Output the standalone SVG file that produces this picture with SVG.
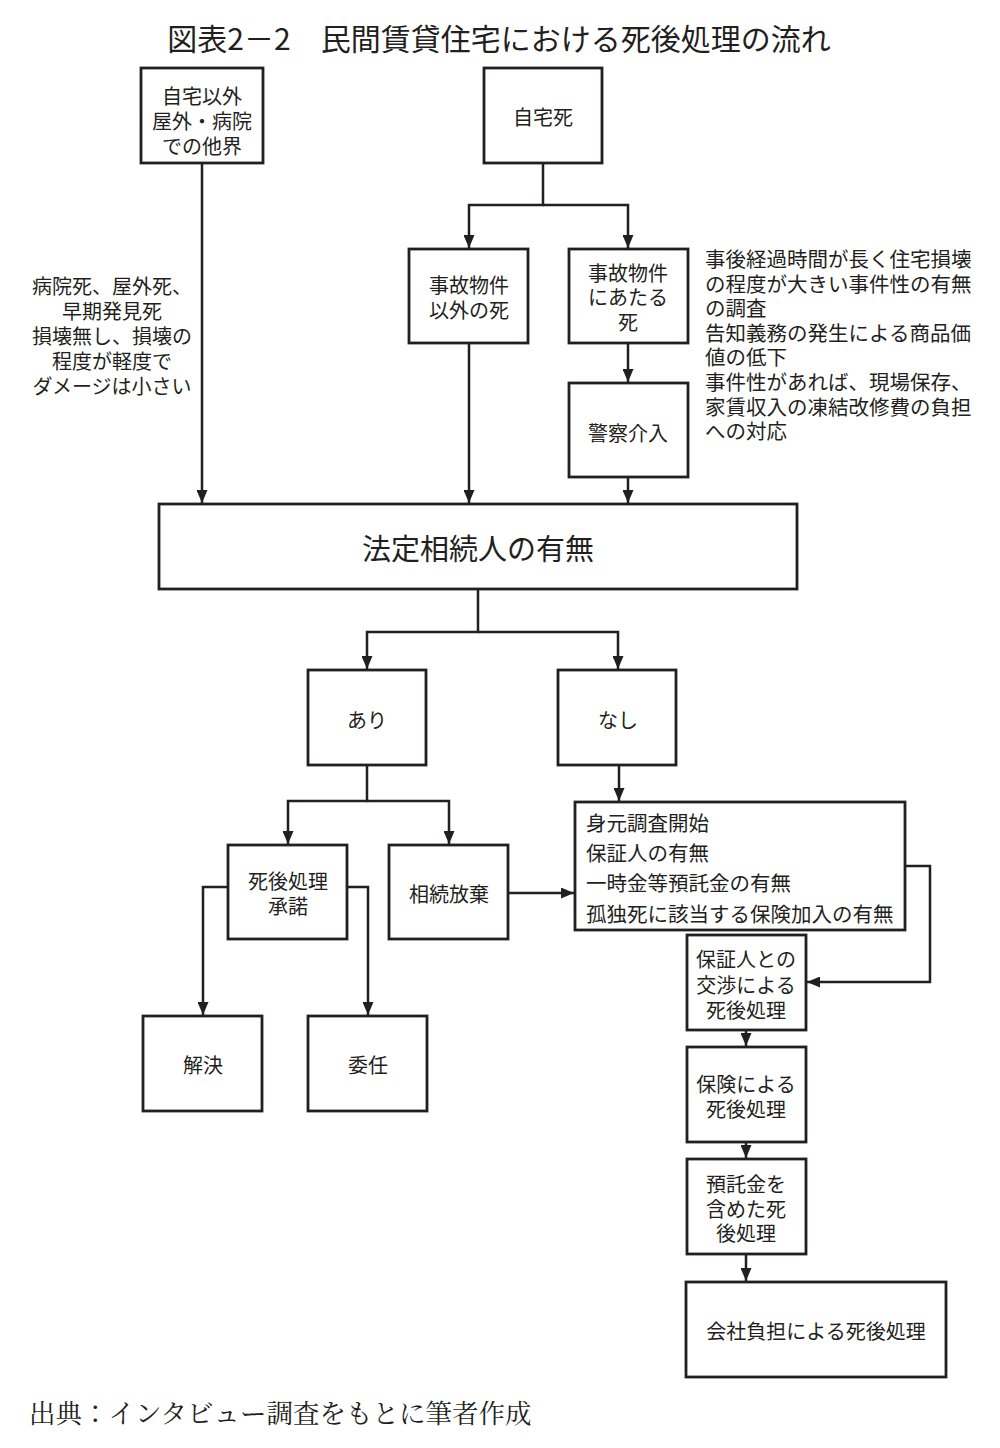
<svg xmlns="http://www.w3.org/2000/svg" width="1000" height="1448" viewBox="0 0 1000 1448">
<style>
.bg{fill:#ffffff}
.box{fill:#ffffff;stroke:#231f20;stroke-width:2.8}
.ln{fill:none;stroke:#231f20;stroke-width:2.5}
.t{font-family:"Noto Sans CJK JP","Noto Sans CJK SC",sans-serif;font-size:20px;fill:#231f20;text-anchor:middle;dominant-baseline:central}
.tl{text-anchor:start}
.note{font-size:20.5px}
.big{font-size:29px}
.title{font-size:30px}
.src{font-family:"Noto Serif CJK JP","Noto Sans CJK JP",serif;font-size:26.5px;fill:#231f20;dominant-baseline:central}
</style>
<defs>
<marker id="ah" markerUnits="userSpaceOnUse" markerWidth="13" markerHeight="11" viewBox="0 0 13 11" refX="13" refY="5.5" orient="auto">
<path d="M0,0 L13,5.5 L0,11 z" fill="#231f20"/>
</marker>
</defs>
<rect class="bg" x="0" y="0" width="1000" height="1448"/>
<text class="t title" x="499" y="37">図表2－2　民間賃貸住宅における死後処理の流れ</text>

<g id="connectors">
<path class="ln" d="M202,163 V503" marker-end="url(#ah)"/>
<path class="ln" d="M543,163 V205 H469 V248" marker-end="url(#ah)"/>
<path class="ln" d="M543,205 H628 V248" marker-end="url(#ah)"/>
<path class="ln" d="M469,343 V503" marker-end="url(#ah)"/>
<path class="ln" d="M628,343 V382" marker-end="url(#ah)"/>
<path class="ln" d="M628,477 V503" marker-end="url(#ah)"/>
<path class="ln" d="M478,589 V632 H367 V669" marker-end="url(#ah)"/>
<path class="ln" d="M478,632 H618 V669" marker-end="url(#ah)"/>
<path class="ln" d="M367,765 V801 H288 V844" marker-end="url(#ah)"/>
<path class="ln" d="M367,801 H449 V844" marker-end="url(#ah)"/>
<path class="ln" d="M619,765 V801" marker-end="url(#ah)"/>
<path class="ln" d="M228,887 H203 V1015" marker-end="url(#ah)"/>
<path class="ln" d="M347,887 H368 V1015" marker-end="url(#ah)"/>
<path class="ln" d="M508,893 H574" marker-end="url(#ah)"/>
<path class="ln" d="M905,866 H930 V982 H807" marker-end="url(#ah)"/>
<path class="ln" d="M746,1030 V1046" marker-end="url(#ah)"/>
<path class="ln" d="M746,1142 V1158" marker-end="url(#ah)"/>
<path class="ln" d="M746,1254 V1281" marker-end="url(#ah)"/>
</g>

<g id="n-jitaku-igai">
<rect class="box" x="141" y="68" width="122" height="95"/>
<text class="t" x="202" y="95">自宅以外</text>
<text class="t" x="202" y="120">屋外・病院</text>
<text class="t" x="202" y="145">での他界</text>
</g>
<g id="n-jitakushi">
<rect class="box" x="484" y="68" width="118" height="95"/>
<text class="t" x="543" y="116">自宅死</text>
</g>
<g id="n-note-left">
<text class="t" x="112" y="285">病院死、屋外死、</text>
<text class="t" x="112" y="310">早期発見死</text>
<text class="t" x="112" y="335">損壊無し、損壊の</text>
<text class="t" x="112" y="360">程度が軽度で</text>
<text class="t" x="112" y="385">ダメージは小さい</text>
</g>
<g id="n-jiko-igai">
<rect class="box" x="409" y="249" width="119" height="94"/>
<text class="t" x="469" y="284">事故物件</text>
<text class="t" x="469" y="309">以外の死</text>
</g>
<g id="n-jiko">
<rect class="box" x="569" y="249" width="119" height="94"/>
<text class="t" x="628" y="272">事故物件</text>
<text class="t" x="628" y="296.5">にあたる</text>
<text class="t" x="628" y="321">死</text>
</g>
<g id="n-note-right">
<text class="t tl note" x="705" y="258">事後経過時間が長く住宅損壊</text>
<text class="t tl note" x="705" y="282.6">の程度が大きい事件性の有無</text>
<text class="t tl note" x="705" y="307.2">の調査</text>
<text class="t tl note" x="705" y="331.8">告知義務の発生による商品価</text>
<text class="t tl note" x="705" y="356.4">値の低下</text>
<text class="t tl note" x="705" y="381">事件性があれば、現場保存、</text>
<text class="t tl note" x="705" y="405.6">家賃収入の凍結改修費の負担</text>
<text class="t tl note" x="705" y="430.2">への対応</text>
</g>
<g id="n-keisatsu">
<rect class="box" x="569" y="383" width="119" height="94"/>
<text class="t" x="628" y="432">警察介入</text>
</g>
<g id="n-souzokunin">
<rect class="box" x="159" y="504" width="638" height="85"/>
<text class="t big" x="478" y="547">法定相続人の有無</text>
</g>
<g id="n-ari">
<rect class="box" x="308" y="670" width="118" height="95"/>
<text class="t" x="367" y="719">あり</text>
</g>
<g id="n-nashi">
<rect class="box" x="558" y="670" width="118" height="95"/>
<text class="t" x="618" y="719">なし</text>
</g>
<g id="n-shodaku">
<rect class="box" x="228" y="845" width="119" height="94"/>
<text class="t" x="288" y="880">死後処理</text>
<text class="t" x="288" y="905">承諾</text>
</g>
<g id="n-houki">
<rect class="box" x="389" y="845" width="119" height="94"/>
<text class="t" x="449" y="893">相続放棄</text>
</g>
<g id="n-chousa">
<rect class="box" x="575" y="802" width="330" height="128"/>
<text class="t tl note" x="586" y="822">身元調査開始</text>
<text class="t tl note" x="586" y="852">保証人の有無</text>
<text class="t tl note" x="586" y="882">一時金等預託金の有無</text>
<text class="t tl note" x="586" y="913">孤独死に該当する保険加入の有無</text>
</g>
<g id="n-kaiketsu">
<rect class="box" x="143" y="1016" width="119" height="95"/>
<text class="t" x="203" y="1064">解決</text>
</g>
<g id="n-inin">
<rect class="box" x="308" y="1016" width="119" height="95"/>
<text class="t" x="368" y="1064">委任</text>
</g>
<g id="n-hoshounin">
<rect class="box" x="687" y="935" width="119" height="95"/>
<text class="t" x="746" y="958">保証人との</text>
<text class="t" x="746" y="984">交渉による</text>
<text class="t" x="746" y="1009">死後処理</text>
</g>
<g id="n-hoken">
<rect class="box" x="687" y="1047" width="119" height="95"/>
<text class="t" x="746" y="1083">保険による</text>
<text class="t" x="746" y="1108">死後処理</text>
</g>
<g id="n-yotakukin">
<rect class="box" x="687" y="1159" width="119" height="95"/>
<text class="t" x="746" y="1183">預託金を</text>
<text class="t" x="746" y="1208">含めた死</text>
<text class="t" x="746" y="1232">後処理</text>
</g>
<g id="n-kaisha">
<rect class="box" x="686" y="1282" width="260" height="95"/>
<text class="t" x="816" y="1330">会社負担による死後処理</text>
</g>
<text class="src" x="29" y="1411">出典：インタビュー調査をもとに筆者作成</text>
</svg>
